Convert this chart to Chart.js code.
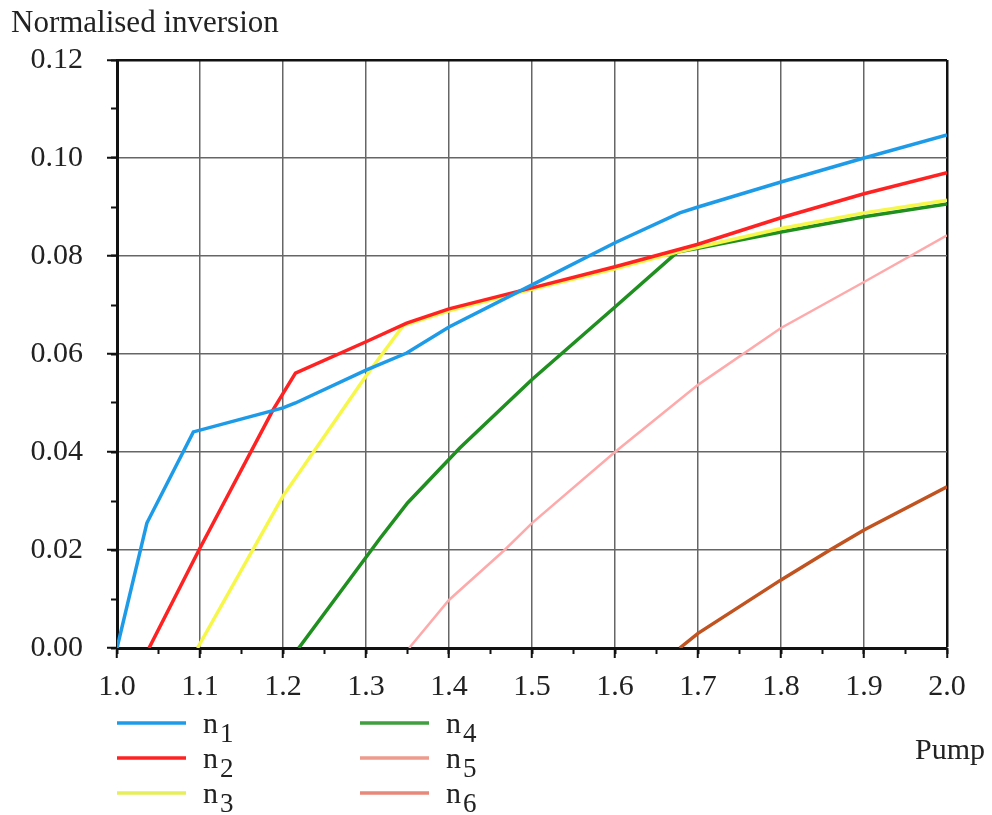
<!DOCTYPE html>
<html>
<head>
<meta charset="utf-8">
<script src="https://cdn.jsdelivr.net/npm/chart.js@4/dist/chart.umd.min.js"></script>
<style>
  html, body { margin: 0; padding: 0; background: #fff; }
  #wrap { position: relative; width: 992px; height: 815px; }
</style>
</head>
<body>
<div id="wrap"><canvas id="myChart"></canvas></div>
<script>
// values
const n1Pump = [1.0, 1.036, 1.092, 1.2, 1.215, 1.3, 1.349, 1.4, 1.5, 1.6, 1.678, 1.7, 1.8, 1.9, 2.0];
const n1Inv = [0, 0.0255, 0.0441, 0.049, 0.050, 0.0567, 0.0602, 0.0655, 0.0741, 0.0827, 0.0888, 0.0900, 0.0951, 0.1000, 0.1047];

const n2Pump = [1.0386, 1.1, 1.188, 1.215, 1.3, 1.349, 1.4, 1.5, 1.6, 1.7, 1.8, 1.9, 2.0];
const n2Inv = [0, 0.0204, 0.0486, 0.0561, 0.0625, 0.0663, 0.0692, 0.0735, 0.0778, 0.0824, 0.0878, 0.0927, 0.097];

const n3Pump = [1.097, 1.2, 1.3, 1.345, 1.4, 1.5, 1.6, 1.675, 1.7, 1.8, 1.9, 2.0];
const n3Inv = [0, 0.031, 0.0555, 0.0658, 0.0688, 0.0732, 0.0774, 0.0808, 0.0818, 0.0856, 0.0888, 0.0914];

const n4Pump = [1.219, 1.317, 1.35, 1.413, 1.5, 1.6, 1.675, 1.7, 1.8, 1.9, 2.0];
const n4Inv = [0, 0.0224, 0.0296, 0.0408, 0.0548, 0.0696, 0.0808, 0.0816, 0.0849, 0.0880, 0.0906];

const n5Pump = [1.352, 1.4, 1.467, 1.5, 1.6, 1.7, 1.8, 1.9, 2.0];
const n5Inv = [0, 0.0098, 0.020, 0.0255, 0.040, 0.0537, 0.0653, 0.0747, 0.0842];

const n6Pump = [1.678, 1.7, 1.8, 1.859, 1.9, 2.0];
const n6Inv = [0, 0.003, 0.0139, 0.020, 0.0241, 0.0329];

const seriesNames = ['n1', 'n2', 'n3', 'n4', 'n5', 'n6'];
const xTicks = [1.0, 2.0, 0.1];   // min, max, step
const yTicks = [0, 0.12, 0.02];

const FONT = "'Liberation Serif', 'Times New Roman', serif";

function pts(xs, ys) {
  return xs.map((x, i) => ({ x: x, y: ys[i] }));
}

function ds(name, xs, ys, color, width, legendColor) {
  return {
    label: name,
    data: pts(xs, ys),
    borderColor: color,
    backgroundColor: color,
    borderWidth: width,
    legendColor: legendColor || color,
    pointRadius: 0,
    tension: 0,
    fill: false
  };
}

// title, axis name and the two-column legend with subscripts
const extras = {
  id: 'extras',
  afterDraw(chart) {
    const ctx = chart.ctx;
    const area = chart.chartArea;
    ctx.save();
    ctx.fillStyle = '#222';
    ctx.textAlign = 'left';
    ctx.textBaseline = 'alphabetic';
    ctx.font = '31px ' + FONT;
    ctx.fillText('Normalised inversion', 11, 32);
    ctx.font = '30px ' + FONT;
    ctx.fillText('Pump', area.right - 32, area.bottom + 111);

    chart.data.datasets.forEach((d, i) => {
      const col = Math.floor(i / 3);
      const row = i % 3;
      const x0 = area.left + col * 243;
      const y = area.bottom + 75 + row * 35;
      ctx.strokeStyle = d.legendColor;
      ctx.lineWidth = Math.max(d.borderWidth, 3.5);
      ctx.beginPath();
      ctx.moveTo(x0, y);
      ctx.lineTo(x0 + 69, y);
      ctx.stroke();
      ctx.fillStyle = '#222';
      ctx.font = '30px ' + FONT;
      ctx.fillText(d.label.charAt(0), x0 + 86, y + 10);
      const w = ctx.measureText(d.label.charAt(0)).width;
      ctx.font = '27px ' + FONT;
      ctx.fillText(d.label.slice(1), x0 + 86 + w + 2, y + 19);
    });
    ctx.restore();
  }
};

const isEnd = (v, end) => Math.abs(v - end) < 1e-9;

const ctx = document.getElementById('myChart').getContext('2d');
const chart = new Chart(ctx, {
  type: 'line',
  data: {
    datasets: [
      ds(seriesNames[0], n1Pump, n1Inv, '#1e9be8', 3.5),
      ds(seriesNames[1], n2Pump, n2Inv, '#ff2222', 3.5),
      ds(seriesNames[2], n3Pump, n3Inv, '#f7f74a', 3.5, '#e6ee5a'),
      ds(seriesNames[3], n4Pump, n4Inv, '#1f8f1f', 3.5, '#3f9f3f'),
      ds(seriesNames[4], n5Pump, n5Inv, '#ffaaaa', 2.5, '#ee9a8c'),
      ds(seriesNames[5], n6Pump, n6Inv, '#c0531f', 3.5, '#e8887a')
    ]
  },
  options: {
    responsive: true,
    maintainAspectRatio: false,
    animation: false,
    layout: { padding: { top: 60, right: 45, left: 0, bottom: 0 } },
    plugins: {
      legend: { display: false },
      tooltip: { enabled: false }
    },
    scales: {
      x: {
        type: 'linear',
        position: 'bottom',
        min: xTicks[0],
        max: xTicks[1],
        afterFit: s => { s.height = 167; },
        ticks: {
          stepSize: xTicks[2],
          padding: 11,
          color: '#222',
          font: { family: FONT, size: 30 },
          callback: v => v.toFixed(1)
        },
        grid: {
          color: c => isEnd(c.tick.value, xTicks[1]) ? '#111' : '#666',
          lineWidth: c => isEnd(c.tick.value, xTicks[1]) ? 2.5 : 1.5,
          tickColor: '#111',
          tickLength: 10,
          tickWidth: 2
        },
        border: { color: '#111', width: 3 }
      },
      xMinor: {
        type: 'linear',
        position: 'bottom',
        weight: -1,
        min: xTicks[0],
        max: xTicks[1],
        afterFit: s => { s.height = 0; },
        ticks: { display: false, stepSize: xTicks[2] / 2 },
        grid: { drawOnChartArea: false, tickColor: '#111', tickLength: 6, tickWidth: 2 },
        border: { display: false }
      },
      y: {
        type: 'linear',
        position: 'left',
        min: yTicks[0],
        max: yTicks[1],
        afterFit: s => { s.width = 117; },
        ticks: {
          stepSize: yTicks[2],
          padding: 24,
          color: '#222',
          font: { family: FONT, size: 30 },
          callback: v => v.toFixed(2)
        },
        grid: {
          color: c => isEnd(c.tick.value, yTicks[1]) ? '#111' : '#666',
          lineWidth: c => isEnd(c.tick.value, yTicks[1]) ? 2.5 : 1.5,
          tickColor: '#111',
          tickLength: 10,
          tickWidth: 2
        },
        border: { color: '#111', width: 3 }
      },
      yMinor: {
        type: 'linear',
        position: 'left',
        weight: -1,
        min: yTicks[0],
        max: yTicks[1],
        afterFit: s => { s.width = 0; },
        ticks: { display: false, stepSize: yTicks[2] / 2 },
        grid: { drawOnChartArea: false, tickColor: '#111', tickLength: 6, tickWidth: 2 },
        border: { display: false }
      }
    }
  },
  plugins: [extras]
});
</script>
</body>
</html>
